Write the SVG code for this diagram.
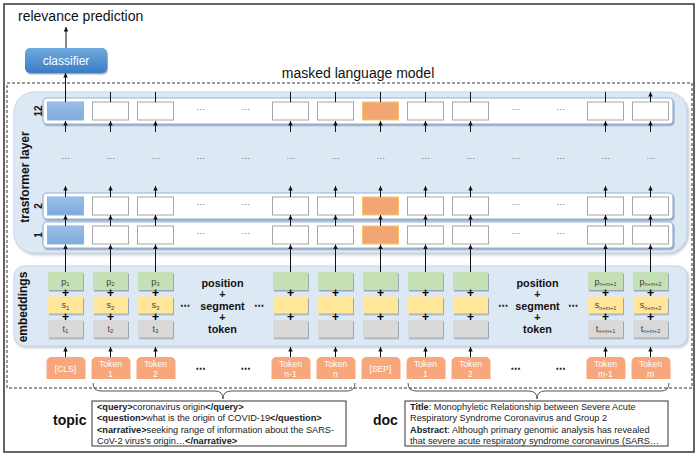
<svg xmlns="http://www.w3.org/2000/svg" width="698" height="455" viewBox="0 0 698 455">
<defs>
<style>
text{font-family:"Liberation Sans",Arial,sans-serif}
.cont{fill:#fff;stroke:#8fb4e0;stroke-width:1.2;filter:url(#sh)}
.bx{fill:#fff;stroke:#a6a6a6;stroke-width:1}
.clsb{fill:url(#gb);stroke:#8db4e2}
.sepb{fill:#f2a673;stroke:#f8c46a;stroke-width:1}
.ar{stroke:#111;stroke-width:1;fill:none;marker-end:url(#ah)}
.dt{font-family:"DejaVu Sans",sans-serif;font-size:8px;fill:#666;text-anchor:middle}
.dk{font-family:"DejaVu Sans",sans-serif;font-size:10px;fill:#222;text-anchor:middle;font-weight:bold}
.pe{fill:#c5e0b4;filter:url(#sh)}
.se{fill:#ffe699;filter:url(#sh)}
.te{fill:#d9d9d9;filter:url(#sh)}
.pl{font-size:12px;font-weight:bold;text-anchor:middle;fill:#000}
.el{font-size:9px;fill:#404040;text-anchor:middle}
.tk{fill:#f7a77b}
.tt{font-size:8.6px;fill:#fff;text-anchor:middle}
.big{font-size:10.8px;font-weight:bold;text-anchor:middle;fill:#111}
.lab{font-size:12px;font-weight:bold;text-anchor:middle;fill:#111}
.num{font-size:10px;font-weight:bold;text-anchor:middle;fill:#111}
.bt{font-size:9.2px;fill:#222}
.b{font-weight:bold}
</style>
<filter id="sh" x="-10%" y="-20%" width="130%" height="160%">
<feDropShadow dx="1" dy="1.5" stdDeviation="0.6" flood-color="#7f8a99" flood-opacity="0.7"/>
</filter>
<filter id="psh" x="-5%" y="-5%" width="110%" height="115%">
<feDropShadow dx="1.5" dy="1.5" stdDeviation="1" flood-color="#9aa3b0" flood-opacity="0.6"/>
</filter>
<linearGradient id="gc" x1="0" y1="0" x2="0" y2="1">
<stop offset="0" stop-color="#6fa9de"/>
<stop offset="1" stop-color="#3b7cc3"/>
</linearGradient>
<linearGradient id="gb" x1="0" y1="0" x2="0" y2="1">
<stop offset="0" stop-color="#9bc0e8"/>
<stop offset="1" stop-color="#7eaadc"/>
</linearGradient>
<marker id="ah" viewBox="0 0 6 6" refX="6" refY="3" markerWidth="4.5" markerHeight="5" orient="auto" markerUnits="userSpaceOnUse">
<path d="M0,0L6,3L0,6z" fill="#111"/>
</marker>
</defs>

<rect x="0" y="0" width="698" height="455" fill="#fff"/>
<rect x="4" y="4" width="690" height="448" fill="none" stroke="#333" stroke-width="1.5"/>
<rect x="7" y="83" width="685" height="305" fill="none" stroke="#333" stroke-width="1" stroke-dasharray="3,2"/>

<text x="18" y="21" font-size="14" fill="#111">relevance prediction</text>
<text x="358" y="78" font-size="14" fill="#111" text-anchor="middle">masked language model</text>

<g id="classifier">
<rect x="25" y="48" width="82" height="25" rx="5" fill="url(#gc)" filter="url(#sh)"/>
<text x="66" y="64.5" font-size="12" fill="#fff" text-anchor="middle">classifier</text>
</g>

<g id="transformer">
<rect x="14" y="92" width="673" height="161" rx="20" fill="#dde8f5" stroke="#c6d6ec" filter="url(#psh)"/>
<text class="lab" transform="translate(28.5,177) rotate(-90)">trasformer layer</text>
<text class="dt" x="65.5" y="161">⋯</text><text class="dt" x="110.5" y="161">⋯</text><text class="dt" x="155.5" y="161">⋯</text><text class="dt" x="200.5" y="161">⋯</text><text class="dt" x="245.5" y="161">⋯</text><text class="dt" x="290.5" y="161">⋯</text><text class="dt" x="335.5" y="161">⋯</text><text class="dt" x="380.5" y="161">⋯</text><text class="dt" x="425.5" y="161">⋯</text><text class="dt" x="470.5" y="161">⋯</text><text class="dt" x="515.5" y="161">⋯</text><text class="dt" x="560.5" y="161">⋯</text><text class="dt" x="605.5" y="161">⋯</text><text class="dt" x="650.5" y="161">⋯</text>
</g>

<g id="layer12">
<rect class="cont" x="43" y="98" width="630" height="26" rx="4"/>
<text class="num" transform="translate(41.6,111) rotate(-90)">12</text>
<rect class="clsb" x="47.5" y="102" width="36" height="18"/>
<rect class="bx" x="92.5" y="102" width="36" height="18"/>
<rect class="bx" x="137.5" y="102" width="36" height="18"/>
<text class="dt" x="200.5" y="112">⋯</text><text class="dt" x="245.5" y="112">⋯</text>
<rect class="bx" x="272.5" y="102" width="36" height="18"/>
<rect class="bx" x="317.5" y="102" width="36" height="18"/>
<rect class="sepb" x="362.5" y="102" width="36" height="18"/>
<rect class="bx" x="407.5" y="102" width="36" height="18"/>
<rect class="bx" x="452.5" y="102" width="36" height="18"/>
<text class="dt" x="515.5" y="112">⋯</text><text class="dt" x="560.5" y="112">⋯</text>
<rect class="bx" x="587.5" y="102" width="36" height="18"/>
<rect class="bx" x="632.5" y="102" width="36" height="18"/>
</g>

<g id="layer2">
<rect class="cont" x="43" y="193" width="630" height="26" rx="4"/>
<text class="num" transform="translate(41.6,206) rotate(-90)">2</text>
<rect class="clsb" x="47.5" y="197" width="36" height="18"/>
<rect class="bx" x="92.5" y="197" width="36" height="18"/>
<rect class="bx" x="137.5" y="197" width="36" height="18"/>
<text class="dt" x="200.5" y="207">⋯</text><text class="dt" x="245.5" y="207">⋯</text>
<rect class="bx" x="272.5" y="197" width="36" height="18"/>
<rect class="bx" x="317.5" y="197" width="36" height="18"/>
<rect class="sepb" x="362.5" y="197" width="36" height="18"/>
<rect class="bx" x="407.5" y="197" width="36" height="18"/>
<rect class="bx" x="452.5" y="197" width="36" height="18"/>
<text class="dt" x="515.5" y="207">⋯</text><text class="dt" x="560.5" y="207">⋯</text>
<rect class="bx" x="587.5" y="197" width="36" height="18"/>
<rect class="bx" x="632.5" y="197" width="36" height="18"/>
</g>

<g id="layer1">
<rect class="cont" x="43" y="222" width="630" height="26" rx="4"/>
<text class="num" transform="translate(41.6,235) rotate(-90)">1</text>
<rect class="clsb" x="47.5" y="226" width="36" height="18"/>
<rect class="bx" x="92.5" y="226" width="36" height="18"/>
<rect class="bx" x="137.5" y="226" width="36" height="18"/>
<text class="dt" x="200.5" y="236">⋯</text><text class="dt" x="245.5" y="236">⋯</text>
<rect class="bx" x="272.5" y="226" width="36" height="18"/>
<rect class="bx" x="317.5" y="226" width="36" height="18"/>
<rect class="sepb" x="362.5" y="226" width="36" height="18"/>
<rect class="bx" x="407.5" y="226" width="36" height="18"/>
<rect class="bx" x="452.5" y="226" width="36" height="18"/>
<text class="dt" x="515.5" y="236">⋯</text><text class="dt" x="560.5" y="236">⋯</text>
<rect class="bx" x="587.5" y="226" width="36" height="18"/>
<rect class="bx" x="632.5" y="226" width="36" height="18"/>
</g>

<g id="embeddings">
<rect x="14" y="266" width="673" height="80" rx="10" fill="#dde8f5" stroke="#c6d6ec" filter="url(#psh)"/>
<text class="lab" transform="translate(27,307) rotate(-90)">embeddings</text>
<rect class="pe" x="48" y="272" width="35" height="18"/><rect class="se" x="48" y="296.5" width="35" height="17"/><rect class="te" x="48" y="320" width="35" height="17.5"/>
<rect class="pe" x="93" y="272" width="35" height="18"/><rect class="se" x="93" y="296.5" width="35" height="17"/><rect class="te" x="93" y="320" width="35" height="17.5"/>
<rect class="pe" x="138" y="272" width="35" height="18"/><rect class="se" x="138" y="296.5" width="35" height="17"/><rect class="te" x="138" y="320" width="35" height="17.5"/>
<rect class="pe" x="273" y="272" width="35" height="18"/><rect class="se" x="273" y="296.5" width="35" height="17"/><rect class="te" x="273" y="320" width="35" height="17.5"/>
<rect class="pe" x="318" y="272" width="35" height="18"/><rect class="se" x="318" y="296.5" width="35" height="17"/><rect class="te" x="318" y="320" width="35" height="17.5"/>
<rect class="pe" x="363" y="272" width="35" height="18"/><rect class="se" x="363" y="296.5" width="35" height="17"/><rect class="te" x="363" y="320" width="35" height="17.5"/>
<rect class="pe" x="408" y="272" width="35" height="18"/><rect class="se" x="408" y="296.5" width="35" height="17"/><rect class="te" x="408" y="320" width="35" height="17.5"/>
<rect class="pe" x="453" y="272" width="35" height="18"/><rect class="se" x="453" y="296.5" width="35" height="17"/><rect class="te" x="453" y="320" width="35" height="17.5"/>
<rect class="pe" x="588" y="272" width="35" height="18"/><rect class="se" x="588" y="296.5" width="35" height="17"/><rect class="te" x="588" y="320" width="35" height="17.5"/>
<rect class="pe" x="633" y="272" width="35" height="18"/><rect class="se" x="633" y="296.5" width="35" height="17"/><rect class="te" x="633" y="320" width="35" height="17.5"/>

<text class="el" x="65.5" y="284.5">p<tspan font-size="6" dy="1.5">1</tspan></text>
<text class="el" x="65.5" y="308">s<tspan font-size="6" dy="1.5">1</tspan></text>
<text class="el" x="65.5" y="331.5">t<tspan font-size="6" dy="1.5">1</tspan></text>
<text class="el" x="110.5" y="284.5">p<tspan font-size="6" dy="1.5">2</tspan></text>
<text class="el" x="110.5" y="308">s<tspan font-size="6" dy="1.5">2</tspan></text>
<text class="el" x="110.5" y="331.5">t<tspan font-size="6" dy="1.5">2</tspan></text>
<text class="el" x="155.5" y="284.5">p<tspan font-size="6" dy="1.5">3</tspan></text>
<text class="el" x="155.5" y="308">s<tspan font-size="6" dy="1.5">3</tspan></text>
<text class="el" x="155.5" y="331.5">t<tspan font-size="6" dy="1.5">3</tspan></text>
<text class="el" x="605.5" y="284.5">p<tspan font-size="5.5" dy="1.5">n+m+1</tspan></text>
<text class="el" x="605.5" y="308">s<tspan font-size="5.5" dy="1.5">n+m+1</tspan></text>
<text class="el" x="605.5" y="331.5">t<tspan font-size="5.5" dy="1.5">n+m+1</tspan></text>
<text class="el" x="650.5" y="284.5">p<tspan font-size="5.5" dy="1.5">n+m+2</tspan></text>
<text class="el" x="650.5" y="308">s<tspan font-size="5.5" dy="1.5">n+m+2</tspan></text>
<text class="el" x="650.5" y="331.5">t<tspan font-size="5.5" dy="1.5">n+m+2</tspan></text>

<text class="pl" x="65.5" y="297">+</text><text class="pl" x="65.5" y="321">+</text>
<text class="pl" x="110.5" y="297">+</text><text class="pl" x="110.5" y="321">+</text>
<text class="pl" x="155.5" y="297">+</text><text class="pl" x="155.5" y="321">+</text>
<text class="pl" x="290.5" y="297">+</text><text class="pl" x="290.5" y="321">+</text>
<text class="pl" x="335.5" y="297">+</text><text class="pl" x="335.5" y="321">+</text>
<text class="pl" x="380.5" y="297">+</text><text class="pl" x="380.5" y="321">+</text>
<text class="pl" x="425.5" y="297">+</text><text class="pl" x="425.5" y="321">+</text>
<text class="pl" x="470.5" y="297">+</text><text class="pl" x="470.5" y="321">+</text>
<text class="pl" x="605.5" y="297">+</text><text class="pl" x="605.5" y="321">+</text>
<text class="pl" x="650.5" y="297">+</text><text class="pl" x="650.5" y="321">+</text>

<text class="big" x="222.5" y="286.5">position</text>
<text class="big" x="222.5" y="298">+</text>
<text class="big" x="222.5" y="309.5">segment</text>
<text class="big" x="222.5" y="321">+</text>
<text class="big" x="222.5" y="333">token</text>
<text class="dk" x="185" y="309">⋯</text><text class="dk" x="259" y="309">⋯</text>
<text class="big" x="537.5" y="286.5">position</text>
<text class="big" x="537.5" y="298">+</text>
<text class="big" x="537.5" y="309.5">segment</text>
<text class="big" x="537.5" y="321">+</text>
<text class="big" x="537.5" y="333">token</text>
<text class="dk" x="503" y="309">⋯</text><text class="dk" x="573" y="309">⋯</text>
</g>

<g id="tokens">
<g id="tok-cls"><path class="tk" d="M46.5,379V362a5,5 0 0 1 5,-5H80.5a5,5 0 0 1 5,5V379Z"/><text class="tt" x="65.5" y="372">[CLS]</text></g>
<g id="tok-q1"><path class="tk" d="M91.5,379V362a5,5 0 0 1 5,-5H125.5a5,5 0 0 1 5,5V379Z"/><text class="tt" x="110.5" y="367">Token</text><text class="tt" x="110.5" y="377">1</text></g>
<g id="tok-q2"><path class="tk" d="M136.5,379V362a5,5 0 0 1 5,-5H170.5a5,5 0 0 1 5,5V379Z"/><text class="tt" x="155.5" y="367">Token</text><text class="tt" x="155.5" y="377">2</text></g>
<text class="dk" x="200.5" y="372">⋯</text><text class="dk" x="245.5" y="372">⋯</text>
<g id="tok-qn1"><path class="tk" d="M271.5,379V362a5,5 0 0 1 5,-5H305.5a5,5 0 0 1 5,5V379Z"/><text class="tt" x="290.5" y="367">Token</text><text class="tt" x="290.5" y="377">n-1</text></g>
<g id="tok-qn"><path class="tk" d="M316.5,379V362a5,5 0 0 1 5,-5H350.5a5,5 0 0 1 5,5V379Z"/><text class="tt" x="335.5" y="367">Token</text><text class="tt" x="335.5" y="377">n</text></g>
<g id="tok-sep"><path class="tk" d="M361.5,379V362a5,5 0 0 1 5,-5H395.5a5,5 0 0 1 5,5V379Z"/><text class="tt" x="380.5" y="372">[SEP]</text></g>
<g id="tok-d1"><path class="tk" d="M406.5,379V362a5,5 0 0 1 5,-5H440.5a5,5 0 0 1 5,5V379Z"/><text class="tt" x="425.5" y="367">Token</text><text class="tt" x="425.5" y="377">1</text></g>
<g id="tok-d2"><path class="tk" d="M451.5,379V362a5,5 0 0 1 5,-5H485.5a5,5 0 0 1 5,5V379Z"/><text class="tt" x="470.5" y="367">Token</text><text class="tt" x="470.5" y="377">2</text></g>
<text class="dk" x="515.5" y="372">⋯</text><text class="dk" x="560.5" y="372">⋯</text>
<g id="tok-dm1"><path class="tk" d="M586.5,379V362a5,5 0 0 1 5,-5H620.5a5,5 0 0 1 5,5V379Z"/><text class="tt" x="605.5" y="367">Token</text><text class="tt" x="605.5" y="377">m-1</text></g>
<g id="tok-dm"><path class="tk" d="M631.5,379V362a5,5 0 0 1 5,-5H665.5a5,5 0 0 1 5,5V379Z"/><text class="tt" x="650.5" y="367">Token</text><text class="tt" x="650.5" y="377">m</text></g>
</g>

<g id="topic">
<text x="53" y="425" font-size="14" font-weight="bold" fill="#111">topic</text>
<rect x="92" y="401" width="254" height="45" fill="#fff" stroke="#333" stroke-width="1"/>
<text class="bt" x="97" y="409.5"><tspan class="b">&lt;query&gt;</tspan>coronavirus origin<tspan class="b">&lt;/query&gt;</tspan></text>
<text class="bt" x="97" y="421"><tspan class="b">&lt;question&gt;</tspan>what is the origin of COVID-19<tspan class="b">&lt;/question&gt;</tspan></text>
<text class="bt" x="97" y="432.5"><tspan class="b">&lt;narrative&gt;</tspan>seeking range of information about the SARS-</text>
<text class="bt" x="97" y="444">CoV-2 virus's origin…<tspan class="b">&lt;/narrative&gt;</tspan></text>
</g>

<g id="doc">
<text x="373" y="425" font-size="14" font-weight="bold" fill="#111">doc</text>
<rect x="405" y="401" width="263" height="45" fill="#fff" stroke="#333" stroke-width="1"/>
<text class="bt" x="410" y="409.5"><tspan class="b">Title</tspan>:  Monophyletic Relationship between Severe Acute</text>
<text class="bt" x="410" y="421">Respiratory Syndrome Coronavirus and Group 2</text>
<text class="bt" x="410" y="432.5"><tspan class="b">Abstract</tspan>: Although primary genomic analysis has revealed</text>
<text class="bt" x="410" y="444">that severe acute respiratory syndrome coronavirus (SARS…</text>
</g>

<g id="connectors">
<path class="ar" d="M66,48V27"/>
<path class="ar" d="M65.5,102V73"/>
<path class="ar" d="M110.5,102V92M155.5,102V92M290.5,102V92M335.5,102V92M380.5,102V92M425.5,102V92M470.5,102V92M605.5,102V92M650.5,102V92"/>
<path class="ar" d="M65.5,132V121"/><path class="ar" d="M110.5,132V121"/><path class="ar" d="M155.5,132V121"/><path class="ar" d="M290.5,132V121"/><path class="ar" d="M335.5,132V121"/><path class="ar" d="M380.5,132V121"/><path class="ar" d="M425.5,132V121"/><path class="ar" d="M470.5,132V121"/><path class="ar" d="M605.5,132V121"/><path class="ar" d="M650.5,132V121"/>
<path class="ar" d="M65.5,197V186"/><path class="ar" d="M110.5,197V186"/><path class="ar" d="M155.5,197V186"/><path class="ar" d="M290.5,197V186"/><path class="ar" d="M335.5,197V186"/><path class="ar" d="M380.5,197V186"/><path class="ar" d="M425.5,197V186"/><path class="ar" d="M470.5,197V186"/><path class="ar" d="M605.5,197V186"/><path class="ar" d="M650.5,197V186"/>
<path class="ar" d="M65.5,226V215"/><path class="ar" d="M110.5,226V215"/><path class="ar" d="M155.5,226V215"/><path class="ar" d="M290.5,226V215"/><path class="ar" d="M335.5,226V215"/><path class="ar" d="M380.5,226V215"/><path class="ar" d="M425.5,226V215"/><path class="ar" d="M470.5,226V215"/><path class="ar" d="M605.5,226V215"/><path class="ar" d="M650.5,226V215"/>
<path class="ar" d="M65.5,272V244.5"/><path class="ar" d="M110.5,272V244.5"/><path class="ar" d="M155.5,272V244.5"/><path class="ar" d="M290.5,272V244.5"/><path class="ar" d="M335.5,272V244.5"/><path class="ar" d="M380.5,272V244.5"/><path class="ar" d="M425.5,272V244.5"/><path class="ar" d="M470.5,272V244.5"/><path class="ar" d="M605.5,272V244.5"/><path class="ar" d="M650.5,272V244.5"/>
<path class="ar" d="M65.5,357V347"/><path class="ar" d="M110.5,357V347"/><path class="ar" d="M155.5,357V347"/><path class="ar" d="M290.5,357V347"/><path class="ar" d="M335.5,357V347"/><path class="ar" d="M380.5,357V347"/><path class="ar" d="M425.5,357V347"/><path class="ar" d="M470.5,357V347"/><path class="ar" d="M605.5,357V347"/><path class="ar" d="M650.5,357V347"/>
<path d="M93,383Q93,391 101,391H215Q223,391 223,399Q223,391 231,391H347Q355,391 355,383" fill="none" stroke="#555" stroke-width="1"/>
<path d="M408,383Q408,391 416,391H529Q537,391 537,399Q537,391 545,391H661Q669,391 669,383" fill="none" stroke="#555" stroke-width="1"/>
</g>
</svg>
